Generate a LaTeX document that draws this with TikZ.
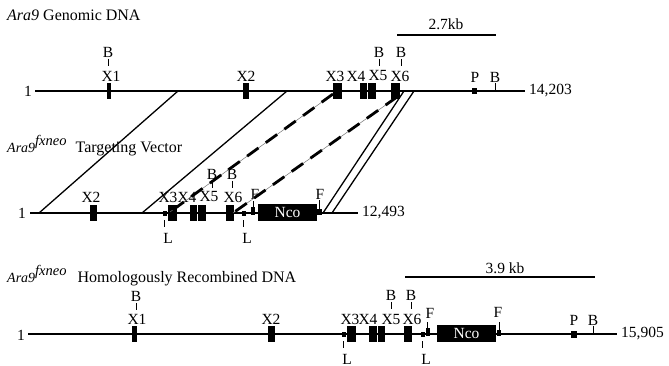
\documentclass[tikz,border=0pt]{standalone}
\usepackage{fontspec}
\setmainfont{Liberation Serif}
\begin{document}
\begin{tikzpicture}[x=1pt,y=-1pt,
  bb/.style={line width=1.6pt},
  exon/.style={rectangle, fill=black, inner sep=0pt, minimum height=16pt},
  lab/.style={inner sep=0pt, font=\fontsize{15.5}{18}\selectfont},
  ttl/.style={inner sep=0pt, font=\fontsize{16}{19}\selectfont},
  tck/.style={line width=0.9pt},
  diag/.style={line width=1.3pt},
  hom/.style={line width=2.8pt, dash pattern=on 14pt off 9pt,
     preaction={draw, solid, line width=0.5pt, black!55}},
  lox/.style={rectangle, fill=black, inner sep=0pt, minimum width=4pt, minimum height=5pt},
  frt/.style={rectangle, fill=black, inner sep=0pt, minimum width=4pt, minimum height=8pt},
  neo/.style={rectangle, fill=black, inner sep=0pt, minimum width=59pt, minimum height=17pt,
     text=white, font=\fontsize{15.5}{18}\selectfont}]
\useasboundingbox (0,0) rectangle (669,366);

% ---------------- titles
\node[ttl, anchor=west] (t1) at (7,15) {\textit{Ara9} Genomic DNA};
\node[ttl, anchor=base west] (t2) at (7,153) {{\fontsize{14}{16}\selectfont\textit{Ara9}}\raisebox{7pt}{\fontsize{14.5}{16}\selectfont\textit{fxneo}}\hspace{5pt} Targeting Vector};
\node[ttl, anchor=base west] (t3) at (7,282) {{\fontsize{14}{16}\selectfont\textit{Ara9}}\raisebox{7pt}{\fontsize{14.5}{16}\selectfont\textit{fxneo}}\hspace{7pt} Homologously Recombined DNA};

% ---------------- row 1 : genomic
\coordinate (r1s) at (35,91);
\coordinate (r1e) at (525,91);
\draw[bb] (r1s) -- (r1e);
\node[lab, anchor=east] (r1one) at (32,91) {1};
\node[lab, anchor=west] (r1len) at (529,91) {14,203};
\node[exon, minimum width=4pt] (r1x1) at (109,91) {};
\node[exon, minimum width=6pt] (r1x2) at (246,91) {};
\node[exon, minimum width=9pt] (r1x3) at (337.5,91) {};
\node[exon, minimum width=6.5pt] (r1x4) at (363.25,91) {};
\node[exon, minimum width=7.5pt] (r1x5) at (371.75,91) {};
\node[exon, minimum width=8.5pt] (r1x6) at (395.25,91) {};
\node[rectangle, fill=black, inner sep=0pt, minimum width=5pt, minimum height=6pt] (r1p) at (474.5,91) {};
\node[lab] (r1lx1) at (111,76) {X1};
\node[lab] (r1lx2) at (246,76) {X2};
\node[lab] (r1lx3) at (335,76) {X3};
\node[lab] (r1lx4) at (356,76) {X4};
\node[lab] (r1lx5) at (378,76) {X5};
\node[lab] (r1lx6) at (400,76) {X6};
\node[lab] (r1lp) at (475,77) {P};
\node[lab] (r1lb4) at (495,77) {B};
\node[lab] (r1lb1) at (108,52) {B};
\node[lab] (r1lb2) at (379,52) {B};
\node[lab] (r1lb3) at (401,52) {B};
\draw[tck] (r1lb1.south) ++(0,1.5) -- ++(0,7);
\draw[tck] (r1lb2.south) ++(0,1.5) -- ++(0,7);
\draw[tck] (r1lb3.south) ++(0,1.5) -- ++(0,7);
\draw[tck] (r1lb4.south) ++(0,1) -- (495,91);
\coordinate (sb1a) at (397,35);
\coordinate (sb1b) at (496,35);
\draw[line width=1.2pt] (sb1a) -- (sb1b);
\node[lab] (sb1t) at (446,24) {2.7kb};

% ---------------- row 2 : targeting vector
\coordinate (r2s) at (30,213);
\coordinate (r2e) at (358,213);
\draw[bb] (r2s) -- (r2e);
\node[lab, anchor=east] (r2one) at (26,213) {1};
\node[lab, anchor=west] (r2len) at (362,213) {12,493};
\node[exon, minimum width=7pt] (r2x2) at (93,213) {};
\node[lox] (r2l1) at (165,213.5) {};
\node[exon, minimum width=9pt] (r2x3) at (172.5,213) {};
\node[exon, minimum width=6.5pt] (r2x4) at (193.25,213) {};
\node[exon, minimum width=7.5pt] (r2x5) at (201.75,213) {};
\node[exon, minimum width=8pt] (r2x6) at (230,213) {};
\node[lox] (r2l2) at (244,213.5) {};
\node[frt] (r2f1) at (253,211) {};
\node[neo] (r2neo) at (287.5,212.5) {Nco};
\node[rectangle, fill=black, inner sep=0pt, minimum width=5pt, minimum height=6pt] (r2f2) at (319.5,212) {};
\draw[tck] (r2f1.north) -- ++(0,-6);
\draw[tck] (r2f2.north) -- ++(0,-9);
\node[lab] (r2lx2) at (91,197) {X2};
\node[lab] (r2lx3) at (168,197) {X3};
\node[lab] (r2lx4) at (187,197) {X4};
\node[lab] (r2lx5) at (209,197) {X5};
\node[lab] (r2lx6) at (233,197) {X6};
\node[lab] (r2lf1) at (255,194) {F};
\node[lab] (r2lf2) at (320,194) {F};
\node[lab] (r2lb1) at (212,174) {B};
\node[lab] (r2lb2) at (232,174) {B};
\draw[tck] (r2lb1.south) ++(0,1.5) -- ++(0,7);
\draw[tck] (r2lb2.south) ++(0,1.5) -- ++(0,7);
\node[lab] (r2ll1) at (168,238) {L};
\node[lab] (r2ll2) at (247,238) {L};
\draw[tck] (164,220) -- (164,227);
\draw[tck] (243,220) -- (243,227);

% ---------------- homology connectors
\coordinate (s1a) at (178,91);  \coordinate (s1b) at (39,213);
\coordinate (s2a) at (287,91);  \coordinate (s2b) at (142,213);
\coordinate (d1a) at (333,94);  \coordinate (d1b) at (170,212);
\coordinate (d2a) at (397,97);  \coordinate (d2b) at (233,213);
\coordinate (p1a) at (404,91);  \coordinate (p1b) at (323,213);
\coordinate (p2a) at (414,91);  \coordinate (p2b) at (332,213);
\draw[diag] (s1a) -- (s1b);
\draw[diag] (s2a) -- (s2b);
\draw[hom] (d1a) -- (d1b);
\draw[hom] (d2a) -- (d2b);
\draw[diag] (p1a) -- (p1b);
\draw[diag] (p2a) -- (p2b);

% ---------------- row 3 : recombined
\coordinate (r3s) at (28,334);
\coordinate (r3e) at (617,334);
\draw[bb] (r3s) -- (r3e);
\node[lab, anchor=east] (r3one) at (25,335) {1};
\node[lab, anchor=west] (r3len) at (621,334) {15,905};
\node[exon, minimum width=5pt] (r3x1) at (134,334) {};
\node[exon, minimum width=7pt] (r3x2) at (271,334) {};
\node[lox] (r3l1) at (344,334.5) {};
\node[exon, minimum width=9pt] (r3x3) at (351.5,334) {};
\node[exon, minimum width=7.5pt] (r3x4) at (372.75,334) {};
\node[exon, minimum width=7pt] (r3x5) at (381.5,334) {};
\node[exon, minimum width=8pt] (r3x6) at (408,334) {};
\node[lox] (r3l2) at (422.5,334.5) {};
\node[frt] (r3f1) at (427.5,332) {};
\node[neo] (r3neo) at (466.5,333) {Nco};
\node[rectangle, fill=black, inner sep=0pt, minimum width=4pt, minimum height=6pt] (r3f2) at (499,333) {};
\node[rectangle, fill=black, inner sep=0pt, minimum width=6pt, minimum height=7pt] (r3p) at (574,334) {};
\draw[tck] (r3f1.north) -- ++(0,-6);
\draw[tck] (r3f2.north) -- ++(0,-8);
\node[lab] (r3lx1) at (137,319) {X1};
\node[lab] (r3lx2) at (271,319) {X2};
\node[lab] (r3lx3) at (350,319) {X3};
\node[lab] (r3lx4) at (368,319) {X4};
\node[lab] (r3lx5) at (391,319) {X5};
\node[lab] (r3lx6) at (412,319) {X6};
\node[lab] (r3lf1) at (430,313) {F};
\node[lab] (r3lf2) at (498,312) {F};
\node[lab] (r3lp) at (574,320) {P};
\node[lab] (r3lb4) at (593,320) {B};
\draw[tck] (r3lb4.south) ++(0,1) -- (593,334);
\node[lab] (r3lb1) at (136,296) {B};
\node[lab] (r3lb2) at (391,295) {B};
\node[lab] (r3lb3) at (411,295) {B};
\draw[tck] (r3lb1.south) ++(0,1.5) -- ++(0,7);
\draw[tck] (r3lb2.south) ++(0,1.5) -- ++(0,7);
\draw[tck] (r3lb3.south) ++(0,1.5) -- ++(0,7);
\node[lab] (r3ll1) at (347,359) {L};
\node[lab] (r3ll2) at (426,359) {L};
\draw[tck] (343,341) -- (343,348);
\draw[tck] (422,341) -- (422,348);
\coordinate (sb3a) at (405,277);
\coordinate (sb3b) at (595,277);
\draw[line width=1.2pt] (sb3a) -- (sb3b);
\node[lab] (sb3t) at (505,268) {3.9 kb};
\end{tikzpicture}
\end{document}
